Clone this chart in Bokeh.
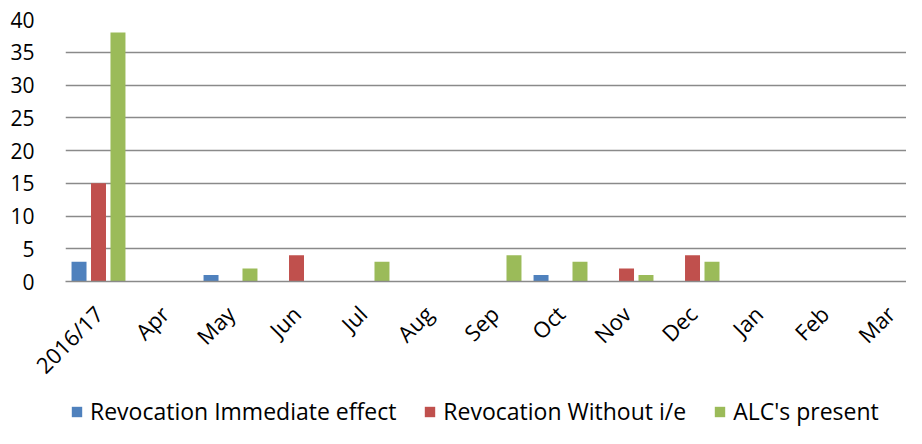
from bokeh.plotting import figure
from bokeh.layouts import column
from bokeh.models import ColumnDataSource, Range1d, FixedTicker, Legend, LegendItem
from bokeh.embed import file_html
from bokeh.resources import INLINE

categories = ["2016/17", "Apr", "May", "Jun", "Jul", "Aug", "Sep", "Oct", "Nov", "Dec", "Jan", "Feb", "Mar"]
immediate = [3, 0, 1, 0, 0, 0, 0, 1, 0, 0, 0, 0, 0]
without_ie = [15, 0, 0, 4, 0, 0, 0, 0, 2, 4, 0, 0, 0]
alc_present = [38, 0, 2, 0, 3, 0, 4, 3, 1, 3, 0, 0, 0]
y_ticks = [0, 5, 10, 15, 20, 25, 30, 35, 40]
series_names = ["Revocation Immediate effect", "Revocation Without i/e", "ALC's present"]
colors = ["#4F81BD", "#C0504D", "#9BBB59"]

FONT = "Open Sans"
idx = list(range(len(categories)))

p = figure(width=906, height=392, output_backend="svg", toolbar_location=None,
           x_range=Range1d(-0.5, 12.242), y_range=Range1d(0, 40),
           min_border_left=65, min_border_right=0, min_border_top=19,
           min_border_bottom=109)
p.outline_line_color = None
p.xgrid.grid_line_color = None
p.ygrid.grid_line_color = "#8a8a8a"
p.ygrid.grid_line_width = 1.3
p.ygrid.ticker = FixedTicker(ticks=y_ticks)

p.yaxis.ticker = FixedTicker(ticks=y_ticks)
p.yaxis.axis_line_color = None
p.yaxis.major_tick_line_color = None
p.yaxis.minor_tick_line_color = None
p.yaxis.major_label_text_font = FONT
p.yaxis.major_label_text_font_size = "21px"
p.yaxis.major_label_text_color = "#000000"
p.yaxis.major_label_standoff = 25

p.xaxis.ticker = FixedTicker(ticks=idx)
p.xaxis.major_label_overrides = {i: c for i, c in zip(idx, categories)}
p.xaxis.axis_line_color = "#8a8a8a"
p.xaxis.axis_line_width = 1.3
p.xaxis.major_tick_line_color = None
p.xaxis.minor_tick_line_color = None
p.xaxis.major_label_orientation = 0.785398
p.xaxis.major_label_text_font = FONT
p.xaxis.major_label_text_font_size = "22px"
p.xaxis.major_label_text_color = "#000000"
p.xaxis.major_label_standoff = 22

offsets = [-0.295, 0.0, 0.295]

# legend strip below the chart
lg = figure(width=906, height=36, output_backend="svg", toolbar_location=None,
            x_range=Range1d(0, 1), y_range=Range1d(0, 1), min_border=0)
lg.axis.visible = False
lg.grid.grid_line_color = None
lg.outline_line_color = None

items = []
for vals, name, col, off in zip([immediate, without_ie, alc_present], series_names, colors, offsets):
    src = ColumnDataSource(dict(x=[i + off for i in idx], top=vals))
    p.vbar(x="x", top="top", bottom=0, width=0.227, source=src,
           fill_color=col, line_color=None)
    # swatch renderer for the legend strip (kept outside its visible range)
    sw = lg.vbar(x=[5], top=[1], bottom=[0], width=0.1, fill_color=col, line_color=None)
    items.append(LegendItem(label=name, renderers=[sw]))

legend = Legend(items=items, orientation="horizontal", location=(5, 1),
                label_text_font=FONT, label_text_font_size="23px", label_text_color="#000000",
                glyph_width=13, glyph_height=13, label_standoff=7, spacing=27,
                border_line_color=None, background_fill_alpha=0, margin=0, padding=0)
lg.add_layout(legend, "center")

layout = column(p, lg, spacing=0)
open("out.html", "w").write(file_html(layout, INLINE))
